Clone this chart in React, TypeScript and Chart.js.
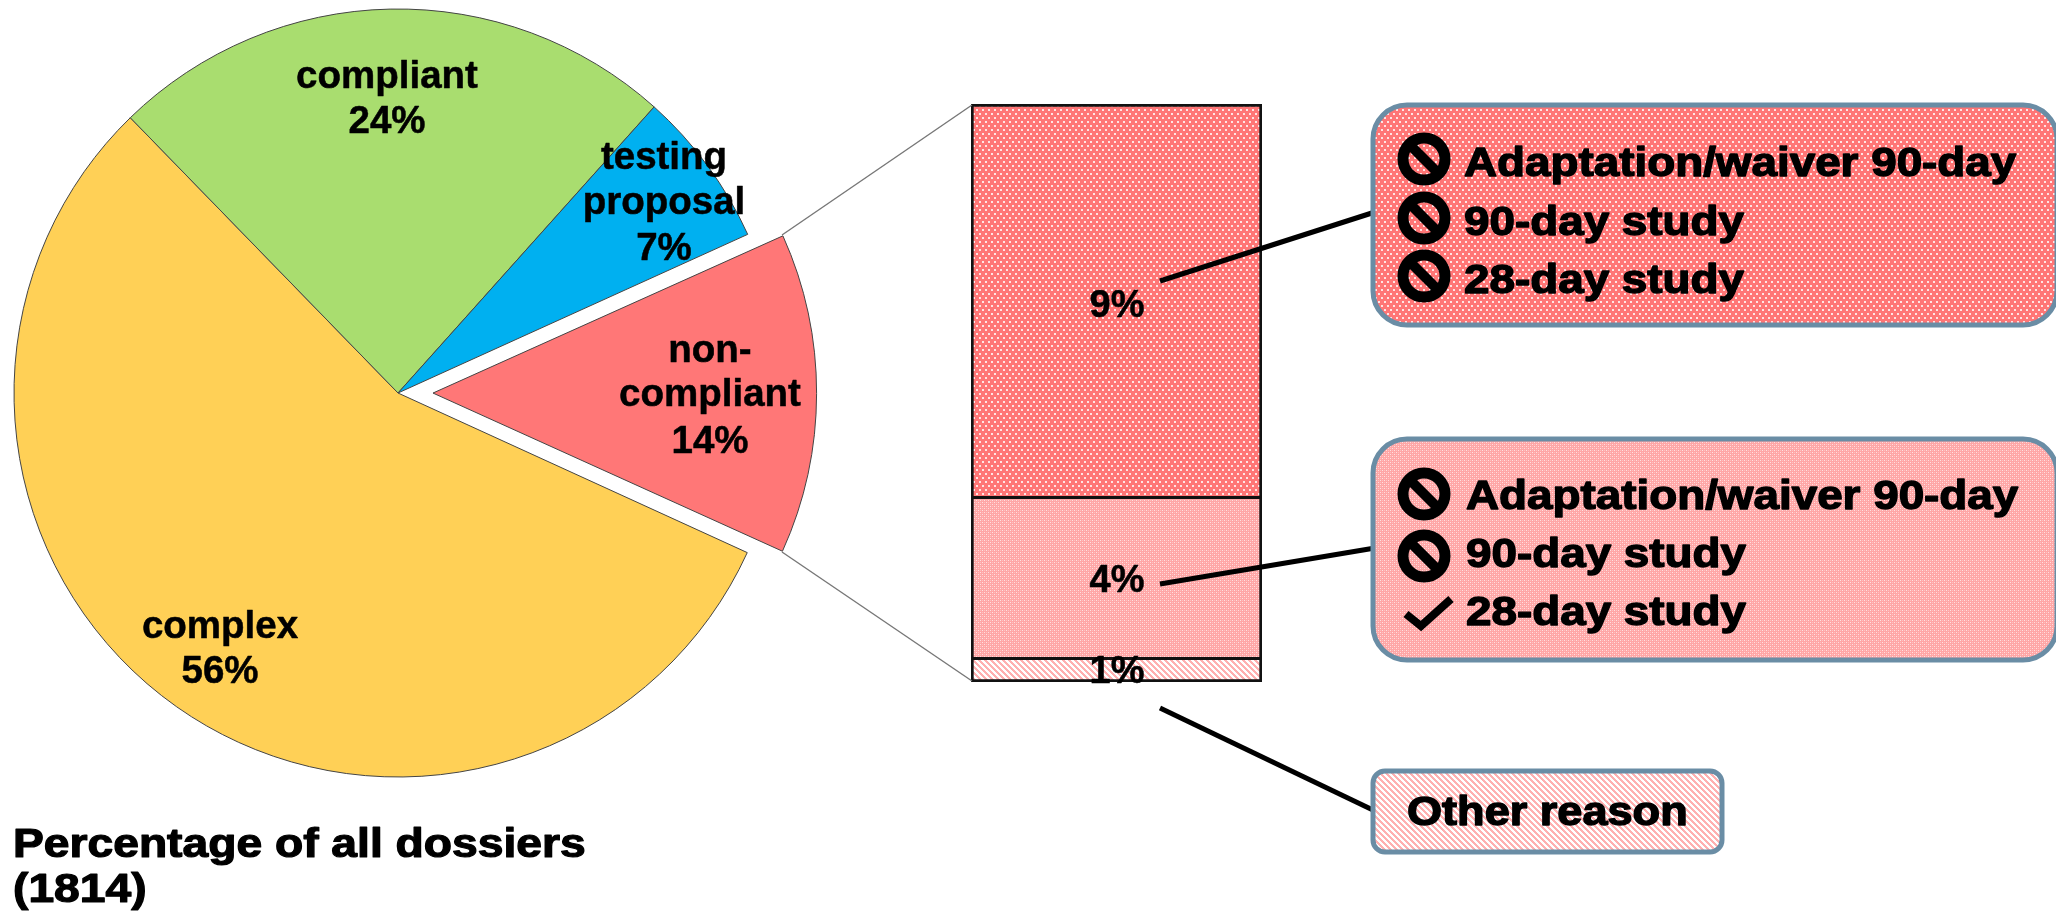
import React, { useEffect, useRef } from "react";
import { Chart, registerables } from "chart.js";

Chart.register(...registerables);

const pieCategories = ["non-compliant", "complex", "compliant", "testing proposal"];
const pieValues = [13.6, 55.9, 23.9, 6.6];
const pieLabelLines = [
  ["non-", "compliant", "14%"],
  ["complex", "56%"],
  ["compliant", "24%"],
  ["testing", "proposal", "7%"],
];
const barCategories = ["non-compliant"];
const barValues = [0.6, 3.9, 9.5];
const barLabels = ["1%", "4%", "9%"];
const reasonsTop = ["Adaptation/waiver 90-day", "90-day study", "28-day study"];
const statusTop = ["ban", "ban", "ban"];
const reasonsMiddle = ["Adaptation/waiver 90-day", "90-day study", "28-day study"];
const statusMiddle = ["ban", "ban", "check"];
const reasonOther = "Other reason";
const captionLines = ["Percentage of all dossiers", "(1814)"];

const W = 2056;
const H = 911;
const FONT = '"Liberation Sans", Arial, sans-serif';

function tile(w: number, h: number, bg: string, paint: (c: CanvasRenderingContext2D) => void) {
  const cv = document.createElement("canvas");
  cv.width = w;
  cv.height = h;
  const c = cv.getContext("2d")!;
  c.fillStyle = bg;
  c.fillRect(0, 0, w, h);
  paint(c);
  return cv;
}
function dotsDense() {
  return tile(6, 8, "#FF7676", (c) => {
    c.fillStyle = "#FFE4E4";
    c.fillRect(1, 1, 2, 2);
    c.fillRect(4, 5, 2, 2);
  });
}
function dotsLight() {
  return tile(4, 4, "#FFA6A6", (c) => {
    c.fillStyle = "#FFE0E0";
    c.fillRect(0, 0, 1, 1);
    c.fillRect(2, 2, 1, 1);
    c.fillStyle = "#FFC0C0";
    c.fillRect(2, 0, 1, 1);
    c.fillRect(0, 2, 1, 1);
  });
}
function hatch() {
  return tile(6, 6, "#FFFFFF", (c) => {
    c.fillStyle = "#FFB0B0";
    for (let i = 0; i < 6; i++) {
      c.fillRect(i, i, 3, 1);
      c.fillRect(i - 6, i, 3, 1);
    }
  });
}

function stretched(
  c: CanvasRenderingContext2D,
  text: string,
  x: number,
  y: number,
  size: number,
  sx: number,
  align: CanvasTextAlign = "left",
  fatten = 0
) {
  c.save();
  c.font = `bold ${size}px ${FONT}`;
  c.fillStyle = "#000";
  c.textAlign = align;
  c.textBaseline = "alphabetic";
  c.translate(x, y);
  c.scale(sx, 1);
  c.fillText(text, 0, 0);
  if (fatten > 0) {
    c.strokeStyle = "#000";
    c.lineWidth = fatten;
    c.lineJoin = "round";
    c.strokeText(text, 0, 0);
  }
  c.restore();
}

function ban(c: CanvasRenderingContext2D, x: number, y: number) {
  c.save();
  c.strokeStyle = "#000";
  c.lineWidth = 11;
  c.beginPath();
  c.arc(x, y, 21, 0, Math.PI * 2);
  c.stroke();
  c.lineWidth = 10;
  c.beginPath();
  c.moveTo(x - 15, y - 15);
  c.lineTo(x + 15, y + 15);
  c.stroke();
  c.restore();
}
function check(c: CanvasRenderingContext2D, x: number, y: number) {
  c.save();
  c.strokeStyle = "#000";
  c.lineWidth = 8;
  c.lineJoin = "miter";
  c.beginPath();
  c.moveTo(x - 17, y + 2);
  c.lineTo(x - 2, y + 14);
  c.lineTo(x + 28, y - 13);
  c.stroke();
  c.restore();
}
function roundBox(
  c: CanvasRenderingContext2D,
  x: number,
  y: number,
  w: number,
  h: number,
  r: number,
  fill: string | CanvasPattern
) {
  c.save();
  c.beginPath();
  c.roundRect(x, y, w, h, r);
  c.fillStyle = fill;
  c.fill();
  c.strokeStyle = "#6A8DA5";
  c.lineWidth = 5;
  c.stroke();
  c.restore();
}
function segment(c: CanvasRenderingContext2D, a: number[], b: number[], width: number, color: string) {
  c.save();
  c.strokeStyle = color;
  c.lineWidth = width;
  c.beginPath();
  c.moveTo(a[0], a[1]);
  c.lineTo(b[0], b[1]);
  c.stroke();
  c.restore();
}

const pieTextPlugin = {
  id: "pieText",
  // Chart.js widens an offset slice; keep it the same radius as the other slices.
  beforeDatasetsDraw(chart: any) {
    const arcs = chart.getDatasetMeta(0).data;
    arcs[0].outerRadius = arcs[1].outerRadius - 9;
  },
  afterDatasetsDraw(chart: any) {
    const c = chart.ctx as CanvasRenderingContext2D;
    const spots = [
      { x: 710, y: [362, 406, 453] },
      { x: 220, y: [638, 683] },
      { x: 387, y: [88, 133] },
      { x: 664, y: [169, 214, 260] },
    ];
    pieLabelLines.forEach((lines, i) =>
      lines.forEach((t, j) => stretched(c, t, spots[i].x, spots[i].y[j], 38.5, 1, "center", 0.5))
    );
    captionLines.forEach((t, j) => stretched(c, t, 13, [857, 902][j], 40, 1.155, "left", 1.2));
  },
};

const calloutPlugin = {
  id: "callouts",
  afterDatasetsDraw(chart: any) {
    const c = chart.ctx as CanvasRenderingContext2D;
    segment(c, [782, 235], [972, 105], 1.4, "#777");
    segment(c, [782, 552], [972, 681], 1.4, "#777");
    const p1 = c.createPattern(dotsDense(), "repeat")!;
    const p2 = c.createPattern(dotsLight(), "repeat")!;
    const p3 = c.createPattern(hatch(), "repeat")!;
    segment(c, [1160, 281], [1375, 212], 5, "#000");
    segment(c, [1160, 584], [1375, 548], 5, "#000");
    segment(c, [1160, 708], [1375, 811], 5, "#000");
    roundBox(c, 1373, 105, 684, 220, 34, p1);
    roundBox(c, 1373, 439, 684, 221, 34, p2);
    roundBox(c, 1373, 771, 349, 81, 12, p3);

    const rowsTop = [176, 235, 293];
    const iconsTop = [159, 218, 276];
    reasonsTop.forEach((t, i) => {
      stretched(c, t, 1464, rowsTop[i], 41, 1.117, "left", 1.4);
      if (statusTop[i] === "ban") ban(c, 1424, iconsTop[i]);
      else check(c, 1423, iconsTop[i]);
    });
    const rowsMid = [509, 567, 625];
    const iconsMid = [494, 556, 612];
    reasonsMiddle.forEach((t, i) => {
      stretched(c, t, 1466, rowsMid[i], 41, 1.117, "left", 1.4);
      if (statusMiddle[i] === "ban") ban(c, 1424, iconsMid[i]);
      else check(c, 1423, iconsMid[i]);
    });
    stretched(c, reasonOther, 1407, 825, 41, 1.1, "left", 1.4);

    const ys = [683, 592, 317];
    barLabels.forEach((t, i) => stretched(c, t, 1117, ys[i], 38, 1, "center", 0.5));
  },
};

export default function App() {
  const pieRef = useRef<HTMLCanvasElement>(null);
  const barRef = useRef<HTMLCanvasElement>(null);

  useEffect(() => {
    const pie = new Chart(pieRef.current!, {
      type: "pie",
      data: {
        labels: pieCategories,
        datasets: [
          {
            data: pieValues,
            backgroundColor: ["#FF7777", "#FFD056", "#A9DD6F", "#00B0F0"],
            borderColor: "#444444",
            borderWidth: 1,
            offset: [140, 0, 0, 0],
          },
        ],
      },
      options: {
        responsive: false,
        animation: false,
        rotation: 65.6,
        radius: 384,
        layout: { padding: { left: 0, top: 0, right: W - 796, bottom: H - 786 } },
        plugins: { legend: { display: false }, tooltip: { enabled: false }, title: { display: false } },
      },
      plugins: [pieTextPlugin],
    } as any);

    const ctx = barRef.current!.getContext("2d")!;
    const bar = new Chart(barRef.current!, {
      type: "bar",
      data: {
        labels: barCategories,
        datasets: barLabels.map((label, i) => ({
          label,
          data: [barValues[i]],
          backgroundColor: ctx.createPattern([hatch(), dotsLight(), dotsDense()][i], "repeat")!,
          borderColor: "#111111",
          borderWidth: 3,
          borderSkipped: i === 0 ? false : "bottom",
          barPercentage: 1,
          categoryPercentage: 1,
        })),
      },
      options: {
        responsive: false,
        animation: false,
        layout: { padding: { left: 971, top: 104, right: W - 1262, bottom: H - 682 } },
        scales: {
          x: { display: false, stacked: true },
          y: { display: false, stacked: true, min: 0, max: 14 },
        },
        plugins: { legend: { display: false }, tooltip: { enabled: false }, title: { display: false } },
      },
      plugins: [calloutPlugin],
    } as any);

    return () => {
      pie.destroy();
      bar.destroy();
    };
  }, []);

  const layer: React.CSSProperties = { position: "absolute", left: 0, top: 0, display: "block" };
  return (
    <div style={{ position: "absolute", left: 0, top: 0, width: W, height: H, overflow: "hidden", background: "#fff" }}>
      <canvas ref={pieRef} width={W} height={H} style={layer} />
      <canvas ref={barRef} width={W} height={H} style={layer} />
    </div>
  );
}
